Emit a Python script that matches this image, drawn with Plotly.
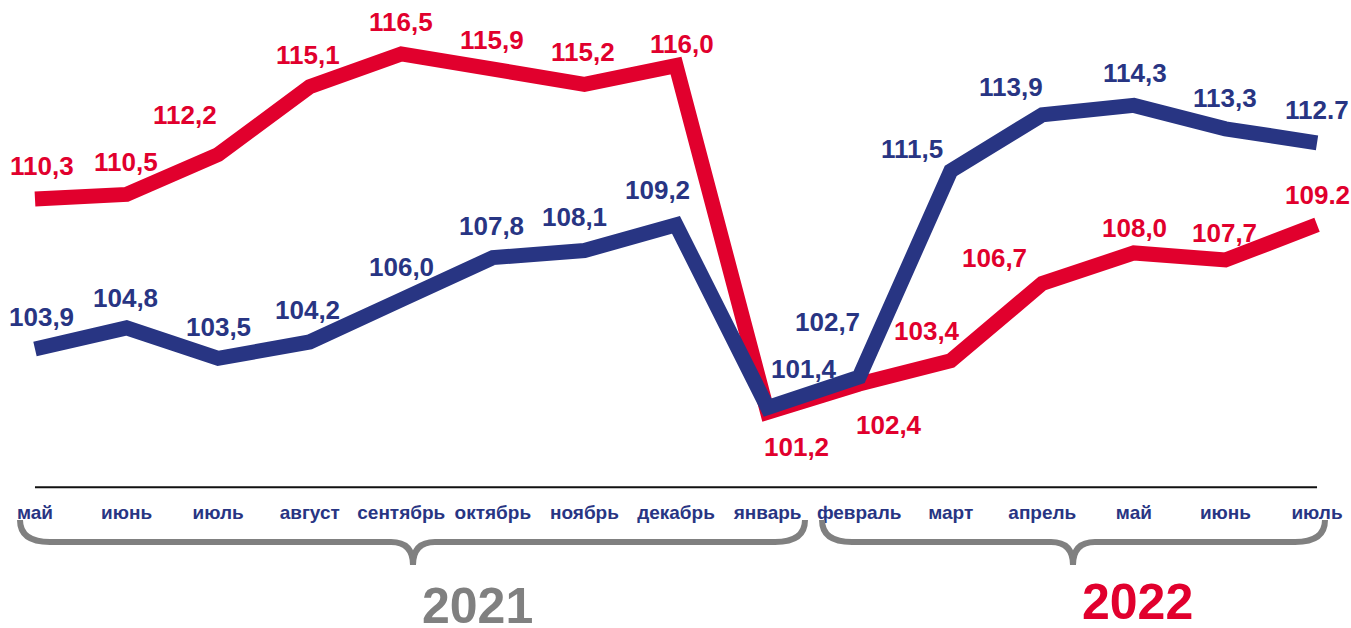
import plotly.graph_objects as go

# ---- data ----
months = ["май", "июнь", "июль", "август", "сентябрь", "октябрь", "ноябрь", "декабрь",
          "январь", "февраль", "март", "апрель", "май", "июнь", "июль"]
red_values = [110.3, 110.5, 112.2, 115.1, 116.5, 115.9, 115.2, 116.0,
              101.2, 102.4, 103.4, 106.7, 108.0, 107.7, 109.2]
blue_values = [103.9, 104.8, 103.5, 104.2, 106.0, 107.8, 108.1, 109.2,
               101.4, 102.7, 111.5, 113.9, 114.3, 113.3, 112.7]
red_labels = ["110,3", "110,5", "112,2", "115,1", "116,5", "115,9", "115,2", "116,0",
              "101,2", "102,4", "103,4", "106,7", "108,0", "107,7", "109.2"]
blue_labels = ["103,9", "104,8", "103,5", "104,2", "106,0", "107,8", "108,1", "109,2",
               "101,4", "102,7", "111,5", "113,9", "114,3", "113,3", "112.7"]
years = ["2021", "2022"]

# ---- styling / label offsets (pixels: dx right, dy down) ----
RED = "#E1002D"
BLUE = "#283583"
GRAY = "#808080"
FONT = "Liberation Sans, Arial, sans-serif"

red_off = [(7, -33), (-1, -32), (-33, -40), (-2, -32), (0, -32), (-1, -28), (-1, -32), (6, -22),
           (29, 35), (30, 41), (-24, -30), (-48, -25), (1, -25), (-1, -27), (0, -30)]
blue_off = [(7, -32), (-1, -30), (0, -31), (-2, -32), (0, -33), (-1, -32), (-10, -34), (-19, -35),
            (36, -39), (-32, -55), (-39, -22), (-31, -28), (1, -32), (0, -31), (0, -33)]

W, H = 1351, 628
MB = 139
PLOT_H = H - MB
x_idx = list(range(len(months)))
X0, X1 = -0.382, 14.371
Y0, Y1 = 97.92, 118.8

fig = go.Figure()
fig.add_trace(go.Scatter(x=x_idx, y=red_values, mode="lines",
                         line=dict(color=RED, width=15), hoverinfo="skip"))
fig.add_trace(go.Scatter(x=x_idx, y=blue_values, mode="lines",
                         line=dict(color=BLUE, width=15), hoverinfo="skip"))

ann = []
for i, (v, t) in enumerate(zip(red_values, red_labels)):
    dx, dy = red_off[i]
    ann.append(dict(x=i, y=v, xref="x", yref="y", text=t, showarrow=False,
                    xanchor="center", yanchor="middle",
                    xshift=dx, yshift=-dy,
                    font=dict(family=FONT, size=26, color=RED, weight="bold")))
for i, (v, t) in enumerate(zip(blue_values, blue_labels)):
    dx, dy = blue_off[i]
    ann.append(dict(x=i, y=v, xref="x", yref="y", text=t, showarrow=False,
                    xanchor="center", yanchor="middle",
                    xshift=dx, yshift=-dy,
                    font=dict(family=FONT, size=26, color=BLUE, weight="bold")))


def px(xp):
    return xp / W


def py(yp):
    return (PLOT_H - yp) / PLOT_H


# year labels
ann.append(dict(x=px(477), y=py(606), xref="paper", yref="paper", text=years[0],
                xanchor="center", yanchor="middle",
                showarrow=False, font=dict(family=FONT, size=50, color=GRAY, weight="bold")))
ann.append(dict(x=px(1137), y=py(602), xref="paper", yref="paper", text=years[1],
                xanchor="center", yanchor="middle",
                showarrow=False, font=dict(family=FONT, size=50, color=RED, weight="bold")))


def brace(x1, x2, tip, ytop=520, yh=542, ytip=565, r=30, rt=22):
    pts = [
        f"M {px(x1)},{py(ytop)}",
        f"Q {px(x1)},{py(yh)} {px(x1 + r)},{py(yh)}",
        f"L {px(tip - rt)},{py(yh)}",
        f"Q {px(tip)},{py(yh)} {px(tip)},{py(ytip)}",
        f"Q {px(tip)},{py(yh)} {px(tip + rt)},{py(yh)}",
        f"L {px(x2 - r)},{py(yh)}",
        f"Q {px(x2)},{py(yh)} {px(x2)},{py(ytop)}",
    ]
    return dict(type="path", path=" ".join(pts), xref="paper", yref="paper",
                line=dict(color=GRAY, width=6), layer="above")


shapes = [
    dict(type="line", xref="x", yref="y", x0=0, x1=len(months) - 1, y0=98, y1=98,
         line=dict(color="#111111", width=2), layer="below"),
    brace(20, 805, 413),
    brace(822, 1325, 1073),
]

fig.update_layout(
    width=W, height=H,
    margin=dict(l=0, r=0, t=0, b=MB),
    paper_bgcolor="white", plot_bgcolor="white",
    showlegend=False,
    annotations=ann,
    shapes=shapes,
    xaxis=dict(range=[X0, X1], showgrid=False, zeroline=False, showline=False,
               tickmode="array", tickvals=x_idx, ticktext=months,
               ticks="outside", ticklen=6, tickcolor="rgba(0,0,0,0)",
               tickfont=dict(family=FONT, size=19, color=BLUE, weight="bold")),
    yaxis=dict(range=[Y0, Y1], showgrid=False, zeroline=False, showline=False,
               showticklabels=False, ticks=""),
)

fig.write_html("out.html", config={"displayModeBar": False},
               post_script="document.body.style.margin='0';document.body.style.overflow='hidden';")
